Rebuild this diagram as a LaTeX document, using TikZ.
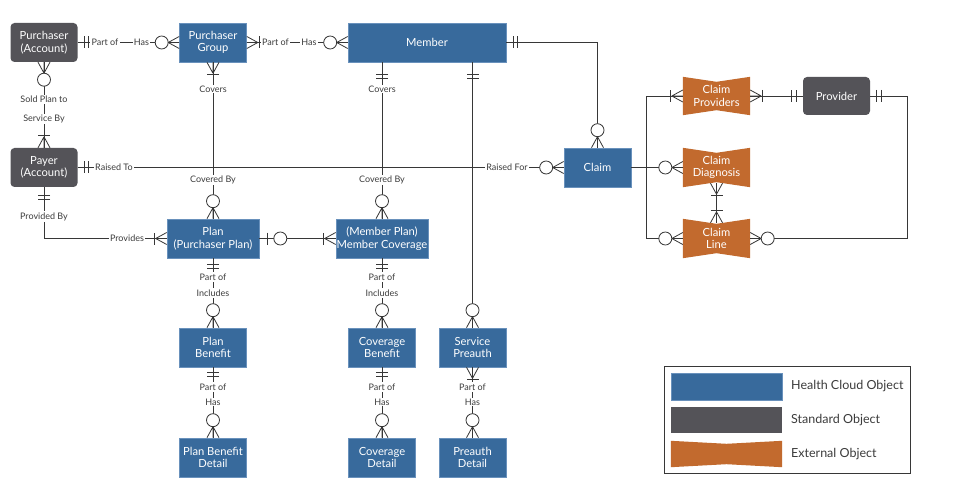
\documentclass[tikz,border=0pt]{standalone}
\usepackage{fontspec}
\setmainfont{Lato}
\usetikzlibrary{backgrounds}
\definecolor{hcblue}{RGB}{56,106,156}
\definecolor{hcborder}{RGB}{105,145,188}
\definecolor{stdgray}{RGB}{84,83,88}
\definecolor{extorange}{RGB}{194,106,46}
\definecolor{linec}{RGB}{55,55,55}
\definecolor{lblc}{RGB}{60,60,60}
\newcommand\xbow[2][5]{\fill[extorange] (#2.north west) -- ([yshift=-#1pt]#2.north) -- (#2.north east) -- (#2.south east) -- ([yshift=#1pt]#2.south) -- (#2.south west) -- cycle;}
\tikzset{
 box/.style={minimum width=67pt, minimum height=39pt, inner xsep=0pt, inner ysep=1pt, align=center, text=white, font=\fontsize{11.2}{12.5}\selectfont},
 hc/.style={box, fill=hcblue, draw=hcborder, line width=0.6pt},
 std/.style={box, fill=stdgray, rounded corners=4pt},
 ext/.style={box},
 conn/.style={draw=linec, line width=0.8pt},
 lbl/.style={fill=white, inner sep=1.2pt, text=lblc, font=\fontsize{9}{10}\selectfont},
 legtext/.style={anchor=west, inner sep=0pt, text=lblc, font=\fontsize{12.5}{14}\selectfont},
 pics/zmany/.style={code={\draw[conn] (0,-6)--(11,0) (0,0)--(11,0) (0,6)--(11,0); \draw[conn,fill=white] (17.5,0) circle[radius=6.5pt];}},
 pics/omany/.style={code={\draw[conn] (0,-6)--(11,0) (0,0)--(11,0) (0,6)--(11,0); \draw[conn] (12.5,-6)--(12.5,6);}},
 pics/zone/.style={code={\draw[conn] (8,-6)--(8,6); \draw[conn,fill=white] (21,0) circle[radius=6.5pt];}},
 pics/dbar/.style={code={\draw[conn] (#1,-6)--(#1,6) (#1+4.5,-6)--(#1+4.5,6);}},
}
\begin{document}
\begin{tikzpicture}[x=1pt,y=-1pt]
\useasboundingbox (0,0) rectangle (959,500);
% nodes
\node[std] (pa) at (44,42.5) {Purchaser\\(Account)};
\node[hc] (pg) at (213,42.5) {Purchaser\\Group};
\node[hc, minimum width=158pt] (mem) at (427,42.5) {Member};
\node[std] (payer) at (44,167.5) {Payer\\(Account)};
\node[hc] (claim) at (597.5,167.5) {Claim};
\node[hc, minimum width=92pt] (plan) at (213,238.5) {Plan\\(Purchaser Plan)};
\node[hc, minimum width=92pt] (mc) at (382,238.5) {(Member Plan)\\Member Coverage};
\node[hc] (pb) at (213,347.5) {Plan\\Benefit};
\node[hc] (cb) at (382,347.5) {Coverage\\Benefit};
\node[hc] (sp) at (472.5,347.5) {Service\\Preauth};
\node[hc] (pbd) at (213,457.5) {Plan Benefit\\Detail};
\node[hc] (cd) at (382,457.5) {Coverage\\Detail};
\node[hc] (pd) at (472.5,457.5) {Preauth\\Detail};
\node[ext, minimum height=38pt] (cprov) at (716.5,96) {Claim\\Providers};
\node[ext] (cdiag) at (716.5,167.5) {Claim\\Diagnosis};
\node[ext] (cline) at (716.5,238.5) {Claim\\Line};
\node[std, minimum height=38pt] (prov) at (836.5,96) {Provider};
% connectors
\draw[conn] (pa.east) -- (pg.west);
\draw[conn] (pg.east) -- (mem.west);
\draw[conn] (pa.south) -- (payer.north);
\draw[conn] (payer.east) -- (claim.west);
\draw[conn] (payer.south) |- (plan.west);
\draw[conn] (pg.south) -- (plan.north);
\draw[conn] (mem.south -| mc.north) -- (mc.north);
\draw[conn] (mem.south -| sp.north) -- (sp.north);
\draw[conn] (mem.east) -| (claim.north);
\draw[conn] (plan.east) -- (mc.west);
\draw[conn] (plan.south) -- (pb.north);
\draw[conn] (pb.south) -- (pbd.north);
\draw[conn] (mc.south) -- (cb.north);
\draw[conn] (cb.south) -- (cd.north);
\draw[conn] (sp.south) -- (pd.north);
\coordinate (bus) at (646.5,167.5);
\coordinate (pcorner) at (907,96);
\draw[conn] (claim.east) -- (cdiag.west);
\draw[conn] (cprov.west) -| (bus) |- (cline.west);
\draw[conn] (cprov.east) -- (prov.west);
\draw[conn] (prov.east) -- (pcorner) |- (cline.east);
\draw[conn] ([yshift=4pt]cdiag.south) -- ([yshift=-4pt]cline.north);
% labels
\node[lbl] (t1) at (105,42.5) {Part of};
\node[lbl] (t2) at (141.5,42.5) {Has};
\node[lbl] (t3) at (275.5,42.5) {Part of};
\node[lbl] (t4) at (309,42.5) {Has};
\node[lbl] (t5) at (44,99.5) {Sold Plan to};
\node[lbl] (t6) at (44,119) {Service By};
\node[lbl] (t7) at (114,167.5) {Raised To};
\node[lbl] (t8) at (507,167.5) {Raised For};
\node[lbl] (t9) at (44,216.5) {Provided By};
\node[lbl] (t10) at (127,238.5) {Provides};
\node[lbl] (t11) at (213,89) {Covers};
\node[lbl] (t12) at (382,89) {Covers};
\node[lbl] (t13) at (213,180) {Covered By};
\node[lbl] (t14) at (382,180) {Covered By};
\node[lbl] (t15) at (213,277) {Part of};
\node[lbl] (t16) at (213,293) {Includes};
\node[lbl] (t17) at (382,277) {Part of};
\node[lbl] (t18) at (382,293) {Includes};
\node[lbl] (t19) at (213,387) {Part of};
\node[lbl] (t20) at (213,402) {Has};
\node[lbl] (t21) at (382,387) {Part of};
\node[lbl] (t22) at (382,402) {Has};
\node[lbl] (t23) at (472.5,387) {Part of};
\node[lbl] (t24) at (472.5,402) {Has};
% ends
\pic at (pa.east) {dbar=6.5};
\pic[rotate=180] at (pg.west) {zmany};
\pic at (pg.east) {omany};
\pic[rotate=180] at (mem.west) {zmany};
\pic[rotate=-90] at (pa.south) {zmany};
\pic[rotate=90] at (payer.north) {omany};
\pic at (payer.east) {dbar=6.5};
\pic[rotate=180] at (claim.west) {zmany};
\pic[rotate=-90] at (payer.south) {dbar=8};
\pic[rotate=180] at (plan.west) {omany};
\pic[rotate=-90] at (pg.south) {omany};
\pic[rotate=90] at (plan.north) {zmany};
\pic[rotate=-90] at (mem.south -| mc.north) {dbar=12};
\pic[rotate=90] at (mc.north) {zmany};
\pic[rotate=-90] at (mem.south -| sp.north) {dbar=12};
\pic[rotate=90] at (sp.north) {zmany};
\pic at (mem.east) {dbar=7};
\pic[rotate=90] at (claim.north) {zmany};
\pic at (plan.east) {zone};
\pic[rotate=180] at (mc.west) {omany};
\pic[rotate=-90] at (plan.south) {dbar=6};
\pic[rotate=90] at (pb.north) {zmany};
\pic[rotate=-90] at (pb.south) {dbar=5};
\pic[rotate=90] at (pbd.north) {zmany};
\pic[rotate=-90] at (mc.south) {dbar=6};
\pic[rotate=90] at (cb.north) {zmany};
\pic[rotate=-90] at (cb.south) {dbar=5};
\pic[rotate=90] at (cd.north) {zmany};
\pic[rotate=-90] at (sp.south) {omany};
\pic[rotate=90] at (pd.north) {zmany};
\pic[rotate=180] at (cprov.west) {omany};
\pic[rotate=180] at (cdiag.west) {zmany};
\pic[rotate=180] at (cline.west) {zmany};
\pic at (cprov.east) {omany};
\pic[rotate=180] at (prov.west) {dbar=6.5};
\pic at (prov.east) {dbar=6.5};
\pic at (cline.east) {zmany};
\pic[rotate=-90] at ([yshift=4pt]cdiag.south) {omany};
\pic[rotate=90] at ([yshift=-4pt]cline.north) {omany};
% legend
\node[draw=linec, line width=0.8pt, minimum width=246pt, minimum height=107pt, inner sep=0pt] (legend) at (787,419.5) {};
\node[fill=hcblue, draw=hcborder, line width=0.6pt, minimum width=111pt, minimum height=27pt, inner sep=0pt] (sw1) at (726.5,386.5) {};
\node[fill=stdgray, minimum width=111pt, minimum height=26pt, inner sep=0pt] (sw2) at (726.5,420) {};
\node[minimum width=111pt, minimum height=26pt, inner sep=0pt] (sw3) at (726.5,454) {};
\node[legtext] (lg1) at (791,386.5) {Health Cloud Object};
\node[legtext] (lg2) at (791,420) {Standard Object};
\node[legtext] (lg3) at (791,454) {External Object};
\begin{pgfonlayer}{background}
\fill[white] (0,0) rectangle (959,500);
\xbow{cprov}\xbow{cdiag}\xbow{cline}
\xbow[3]{sw3}
\end{pgfonlayer}
\end{tikzpicture}
\end{document}
